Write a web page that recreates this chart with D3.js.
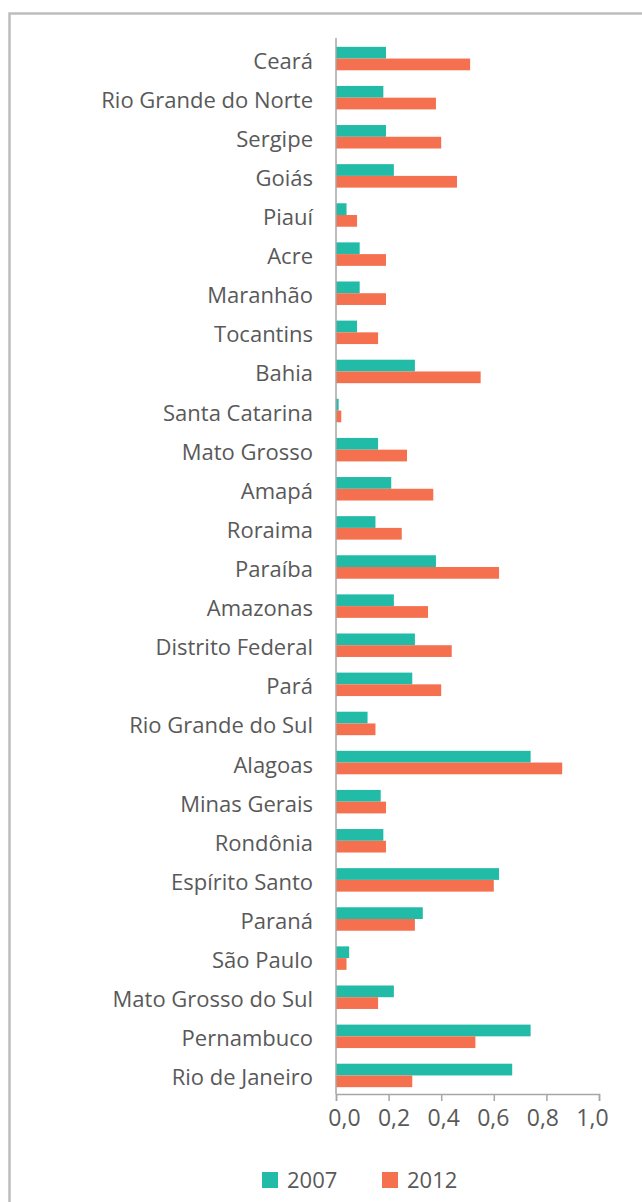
<!DOCTYPE html>
<html lang="pt">
<head>
    <meta charset="UTF-8">
    <title>2007 vs 2012 por estado</title>
    <script src="https://d3js.org/d3.v7.min.js"></script>
    <style>
        body {
            margin: 0;
            background: #ffffff;
            font-family: "Open Sans", Lato, sans-serif;
        }
        .cat-label, .tick-label, .legend-label {
            fill: #595959;
        }
        .cat-label { font-size: 22px; }
        .tick-label { font-size: 23px; }
        .legend-label { font-size: 22px; }
    </style>
</head>
<body>
    <svg id="chart" width="642" height="1202"></svg>
    <script>
        // Data
        const states = [
            "Ceará", "Rio Grande do Norte", "Sergipe", "Goiás", "Piauí", "Acre",
            "Maranhão", "Tocantins", "Bahia", "Santa Catarina", "Mato Grosso",
            "Amapá", "Roraima", "Paraíba", "Amazonas", "Distrito Federal", "Pará",
            "Rio Grande do Sul", "Alagoas", "Minas Gerais", "Rondônia",
            "Espírito Santo", "Paraná", "São Paulo", "Mato Grosso do Sul",
            "Pernambuco", "Rio de Janeiro"
        ];
        const values2007 = [
            0.19, 0.18, 0.19, 0.22, 0.04, 0.09,
            0.09, 0.08, 0.30, 0.01, 0.16,
            0.21, 0.15, 0.38, 0.22, 0.30, 0.29,
            0.12, 0.74, 0.17, 0.18,
            0.62, 0.33, 0.05, 0.22,
            0.74, 0.67
        ];
        const values2012 = [
            0.51, 0.38, 0.40, 0.46, 0.08, 0.19,
            0.19, 0.16, 0.55, 0.02, 0.27,
            0.37, 0.25, 0.62, 0.35, 0.44, 0.40,
            0.15, 0.86, 0.19, 0.19,
            0.60, 0.30, 0.04, 0.16,
            0.53, 0.29
        ];
        const seriesNames = ["2007", "2012"];
        const seriesColors = ["#21bba8", "#f4704f"];
        const tickValues = [0, 0.2, 0.4, 0.6, 0.8, 1.0];

        const svg = d3.select("#chart");

        // outer frame (runs off the right and bottom edge)
        svg.append("rect")
            .attr("x", 9.5).attr("y", 13.5)
            .attr("width", 700).attr("height", 1250)
            .attr("fill", "none")
            .attr("stroke", "#bdbdbd")
            .attr("stroke-width", 2.5);

        const x = d3.scaleLinear().domain([0, 1]).range([336, 599]);
        const y = d3.scaleBand().domain(states).range([39, 1095])
            .paddingInner(0.4).paddingOuter(0.2);
        const ySub = d3.scaleBand().domain(seriesNames).range([0, y.bandwidth()]);

        const rows = states.map((s, i) => ({ state: s, vals: [values2007[i], values2012[i]] }));

        // bars
        const groups = svg.selectAll(".row")
            .data(rows)
            .enter()
            .append("g")
            .attr("class", "row")
            .attr("transform", d => `translate(0,${y(d.state)})`);

        groups.selectAll("rect")
            .data(d => d.vals.map((v, j) => ({ v, name: seriesNames[j], color: seriesColors[j] })))
            .enter()
            .append("rect")
            .attr("x", x(0))
            .attr("y", d => ySub(d.name))
            .attr("width", d => x(d.v) - x(0))
            .attr("height", ySub.bandwidth())
            .attr("fill", d => d.color);

        // category labels
        svg.selectAll(".cat-label")
            .data(states)
            .enter()
            .append("text")
            .attr("class", "cat-label")
            .attr("x", x(0) - 23)
            .attr("y", d => y(d) + y.bandwidth() / 2 + 10)
            .attr("text-anchor", "end")
            .text(d => d);

        // vertical axis line
        const axisY = 1094;
        svg.append("line")
            .attr("x1", x(0)).attr("x2", x(0))
            .attr("y1", 38).attr("y2", axisY)
            .attr("stroke", "#a6a6a6").attr("stroke-width", 1.5);

        // bottom axis
        const xAxis = svg.append("g")
            .attr("transform", `translate(0,${axisY})`)
            .call(d3.axisBottom(x).tickValues(tickValues).tickSize(7).tickFormat(""));
        xAxis.select(".domain").attr("stroke", "#a6a6a6").attr("stroke-width", 1.5);
        xAxis.selectAll(".tick line").attr("stroke", "#a6a6a6").attr("stroke-width", 1.5);

        // tick labels sit slightly inward of the ticks, as in the original
        const xLabel = d3.scaleLinear().domain([0, 1]).range([344.5, 592.5]);
        svg.selectAll(".tick-label")
            .data(tickValues)
            .enter()
            .append("text")
            .attr("class", "tick-label")
            .attr("x", d => xLabel(d))
            .attr("y", axisY + 32)
            .attr("text-anchor", "middle")
            .text(d => d3.format(".1f")(d).replace(".", ","));

        // legend
        const legend = svg.selectAll(".legend")
            .data(seriesNames)
            .enter()
            .append("g")
            .attr("class", "legend")
            .attr("transform", (d, i) => `translate(${262 + i * 120},1172)`);
        legend.append("rect")
            .attr("width", 16).attr("height", 16)
            .attr("fill", (d, i) => seriesColors[i]);
        legend.append("text")
            .attr("class", "legend-label")
            .attr("x", 25).attr("y", 16)
            .text(d => d);
    </script>
</body>
</html>
